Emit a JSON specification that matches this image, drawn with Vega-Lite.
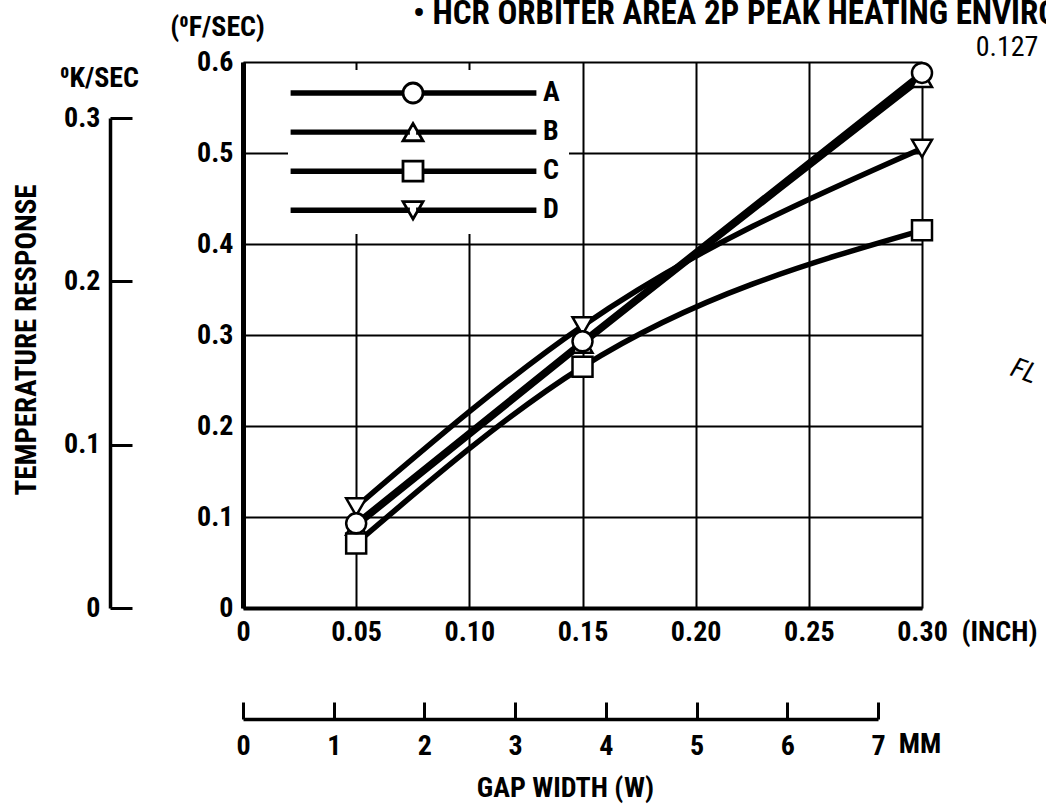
{
  "$schema": "https://vega.github.io/schema/vega-lite/v6.json",
  "width": 679,
  "height": 546,
  "autosize": {"type": "none"},
  "padding": {"left": 243, "top": 62, "right": 124, "bottom": 196},
  "background": "white",
  "config": {
    "view": {"stroke": null},
    "font": "Roboto Condensed, Roboto, sans-serif",
    "axis": {
      "labelFont": "Roboto Condensed, Roboto, sans-serif",
      "labelFontSize": 28,
      "labelFontWeight": "bold",
      "labelColor": "black",
      "titleFont": "Roboto Condensed, Roboto, sans-serif",
      "titleFontSize": 28,
      "titleFontWeight": "bold",
      "titleColor": "black",
      "domainColor": "black",
      "tickColor": "black",
      "gridColor": "black",
      "gridOpacity": 1,
      "labelFlush": false,
      "labelOverlap": false,
      "labelBound": false,
      "labelAngle": 0
    },
    "text": {"font": "Roboto Condensed, Roboto, sans-serif", "fontSize": 28, "fontWeight": "bold", "color": "black"}
  },
  "datasets": {
    "curves": [
      {"series": "B", "gap": 0.05, "response": 0.090},
      {"series": "B", "gap": 0.15, "response": 0.290},
      {"series": "B", "gap": 0.30, "response": 0.582},
      {"series": "C", "gap": 0.05, "response": 0.071},
      {"series": "C", "gap": 0.15, "response": 0.265},
      {"series": "C", "gap": 0.30, "response": 0.415},
      {"series": "D", "gap": 0.05, "response": 0.111},
      {"series": "D", "gap": 0.15, "response": 0.310},
      {"series": "D", "gap": 0.30, "response": 0.505},
      {"series": "A", "gap": 0.05, "response": 0.093},
      {"series": "A", "gap": 0.15, "response": 0.293},
      {"series": "A", "gap": 0.30, "response": 0.588}
    ]
  },
  "layer": [
    {
      "data": {"name": "curves"},
      "layer": [
        {
          "mark": {"type": "line", "interpolate": "monotone", "color": "black", "strokeWidth": 5.5},
          "encoding": {
            "x": {
              "field": "gap", "type": "quantitative",
              "scale": {"domain": [0, 0.3], "nice": false},
              "axis": {
                "orient": "bottom",
                "values": [0, 0.05, 0.1, 0.15, 0.2, 0.25, 0.3],
                "labelExpr": "datum.value == 0 ? '0' : format(datum.value, '.2f')",
                "grid": true, "gridWidth": 2,
                "domainWidth": 4, "ticks": false, "tickSize": 0,
                "labelPadding": 10,
                "title": "(INCH)", "titleAngle": 0, "titleAlign": "left", "titleBaseline": "top",
                "titleX": 718, "titleY": 10
              }
            },
            "y": {
              "field": "response", "type": "quantitative",
              "scale": {"domain": [0, 0.6], "nice": false},
              "axis": {
                "orient": "left",
                "values": [0, 0.1, 0.2, 0.3, 0.4, 0.5, 0.6],
                "labelExpr": "datum.value == 0 ? '0' : format(datum.value, '.1f')",
                "grid": true, "gridWidth": 2,
                "domainWidth": 5, "ticks": false, "tickSize": 0,
                "labelPadding": 10,
                "title": "(⁰F/SEC)", "titleAngle": 0, "titleAlign": "center", "titleBaseline": "middle",
                "titleX": -26, "titleY": -35
              }
            },
            "detail": {"field": "series"}
          }
        },
        {
          "transform": [{"filter": "false"}],
          "mark": {"type": "point", "filled": true, "fill": "white", "stroke": "black", "strokeWidth": 2.8, "size": 400, "opacity": 1},
          "encoding": {
            "x": {"field": "gap", "type": "quantitative"},
            "y": {"field": "response", "type": "quantitative"},
            "shape": {
              "field": "series", "type": "nominal",
              "scale": {
                "domain": ["A", "B", "C", "D"],
                "range": [
                  "M-12.1,-0.13H-1V0.13H-12.1ZM1,-0.13H12.2V0.13H1ZM1,0A1,1,0,1,1,-1,0A1,1,0,1,1,1,0Z",
                  "M-12.1,-0.13H-0.45V0.13H-12.1ZM0.45,-0.13H12.2V0.13H0.45ZM0,-0.866L1,0.866L-1,0.866Z",
                  "M-12.1,-0.13H-1V0.13H-12.1ZM1,-0.13H12.2V0.13H1ZM-1,-1H1V1H-1Z",
                  "M-12.1,-0.13H-0.45V0.13H-12.1ZM0.45,-0.13H12.2V0.13H0.45ZM0,0.866L1,-0.866L-1,-0.866Z"
                ]
              },
              "legend": {
                "orient": "none", "legendX": 45, "legendY": 8,
                "title": null,
                "fillColor": "white",
                "padding": 9,
                "rowPadding": 8.1,
                "symbolSize": 400,
                "symbolOffset": 102,
                "symbolStrokeWidth": 2.8,
                "symbolStrokeColor": "black",
                "symbolFillColor": "white",
                "symbolOpacity": 1,
                "labelOffset": 116,
                "labelFont": "Roboto Condensed, Roboto, sans-serif",
                "labelFontSize": 28,
                "labelFontWeight": "bold",
                "labelColor": "black",
                "labelBaseline": "middle",
                "encoding": {
                  "symbols": {
                    "fill": {"value": "white"},
                    "stroke": {"value": "black"},
                    "strokeWidth": {"value": 2.8},
                    "opacity": {"value": 1}
                  }
                }
              }
            }
          }
        },
        {
          "mark": {"type": "point", "filled": true, "fill": "white", "stroke": "black", "strokeWidth": 2.5, "size": 400, "opacity": 1, "fillOpacity": 1, "strokeOpacity": 1},
          "encoding": {
            "x": {"field": "gap", "type": "quantitative"},
            "y": {"field": "response", "type": "quantitative"},
            "shape": {
              "field": "series", "type": "nominal",
              "scale": {"domain": ["A", "B", "C", "D"], "range": ["circle", "triangle-up", "square", "triangle-down"]},
              "legend": null
            }
          }
        },
        {
          "data": {"values": [{}]},
          "mark": {"type": "text", "text": "• HCR ORBITER AREA 2P PEAK HEATING ENVIRONMENT", "align": "left", "baseline": "alphabetic", "fontSize": 33},
          "encoding": {"x": {"datum": 0.0751, "type": "quantitative"}, "y": {"datum": 0.6418, "type": "quantitative"}}
        },
        {
          "data": {"values": [{}]},
          "mark": {"type": "text", "text": "0.127", "align": "center", "baseline": "middle", "fontSize": 28, "fontWeight": "normal"},
          "encoding": {"x": {"datum": 0.3376, "type": "quantitative"}, "y": {"datum": 0.615, "type": "quantitative"}}
        },
        {
          "data": {"values": [{}]},
          "mark": {"type": "text", "text": "FL", "align": "center", "baseline": "middle", "fontSize": 28, "fontWeight": "normal", "fontStyle": "italic", "angle": 20},
          "encoding": {"x": {"datum": 0.3450, "type": "quantitative"}, "y": {"datum": 0.2593, "type": "quantitative"}}
        },
        {
          "data": {"values": [{}]},
          "mark": {"type": "text", "text": "TEMPERATURE RESPONSE", "align": "center", "baseline": "middle", "fontSize": 29, "angle": 270},
          "encoding": {"x": {"datum": -0.0954, "type": "quantitative"}, "y": {"datum": 0.2945, "type": "quantitative"}}
        },
        {
          "data": {"values": [{}]},
          "mark": {"type": "text", "text": "MM", "align": "center", "baseline": "middle", "fontSize": 28},
          "encoding": {"x": {"datum": 0.2991, "type": "quantitative"}, "y": {"datum": -0.1505, "type": "quantitative"}}
        }
      ],
      "resolve": {"scale": {"shape": "independent"}}
    },
    {
      "data": {"values": [{}]},
      "mark": {"type": "rule", "strokeOpacity": 0},
      "encoding": {
        "y": {
          "datum": 0, "type": "quantitative",
          "scale": {"domain": [0, 0.3], "range": [546, 56], "nice": false, "zero": false},
          "axis": {
            "orient": "left", "offset": 133,
            "values": [0, 0.1, 0.2, 0.3],
            "labelExpr": "datum.value == 0 ? '0' : format(datum.value, '.1f')",
            "grid": false,
            "domainWidth": 3.5,
            "ticks": true, "tickSize": -22, "tickWidth": 3,
            "labelPadding": 32,
            "title": "⁰K/SEC", "titleAngle": 0, "titleAlign": "center", "titleBaseline": "middle",
            "titleX": -11, "titleY": 16
          }
        }
      }
    },
    {
      "data": {"values": [{}]},
      "mark": {"type": "rule", "strokeOpacity": 0},
      "encoding": {
        "x": {
          "datum": 0, "type": "quantitative",
          "scale": {"domain": [0, 7], "range": [0, 635], "nice": false, "zero": false},
          "axis": {
            "orient": "bottom", "offset": 111,
            "values": [0, 1, 2, 3, 4, 5, 6, 7],
            "grid": false,
            "domainWidth": 3.5,
            "ticks": true, "tickSize": -17, "tickWidth": 3,
            "labelPadding": 30,
            "title": "GAP WIDTH (W)", "titleAngle": 0, "titleAlign": "center", "titleBaseline": "middle",
            "titleX": 322, "titleY": 69
          }
        }
      }
    }
  ],
  "resolve": {"scale": {"x": "independent", "y": "independent"}}
}
